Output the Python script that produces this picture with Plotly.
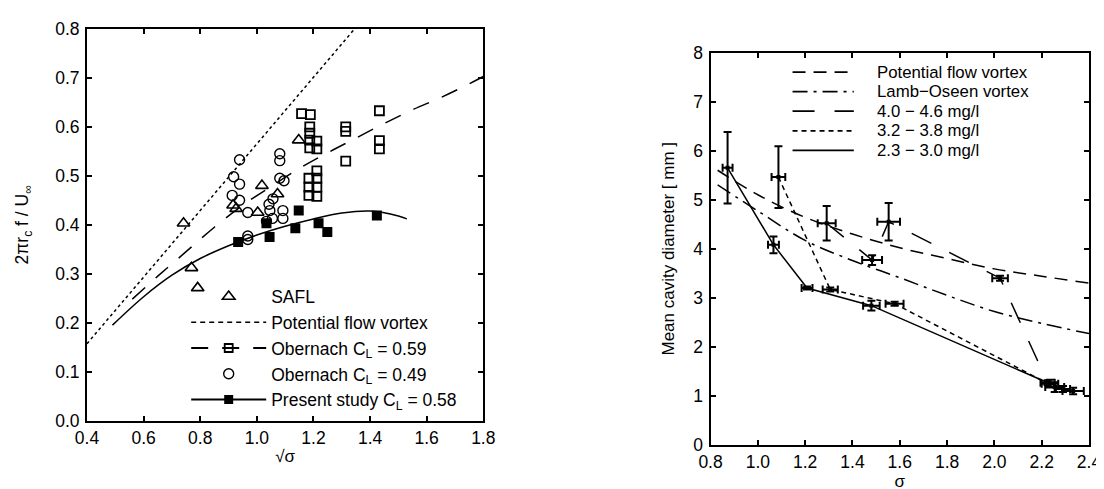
import plotly.graph_objects as go

# ---------------- Left panel data ----------------
safl_x = [0.741, 0.916, 0.927, 1.003, 1.018, 1.073, 1.148, 0.769, 0.791]
safl_y = [0.403, 0.440, 0.433, 0.425, 0.480, 0.463, 0.573, 0.312, 0.271]

obn49_x = [0.939, 0.918, 0.939, 0.913, 0.939, 0.968, 0.968, 0.968, 1.081, 1.081,
           1.081, 1.096, 1.043, 1.057, 1.046, 1.092, 1.092, 1.055, 1.034]
obn49_y = [0.533, 0.498, 0.483, 0.460, 0.450, 0.425, 0.377, 0.370, 0.545, 0.531,
           0.495, 0.490, 0.442, 0.453, 0.429, 0.429, 0.413, 0.413, 0.407]

obn59_x = [1.158, 1.189, 1.187, 1.187, 1.187, 1.187, 1.212, 1.212, 1.212, 1.212, 1.212,
           1.212, 1.184, 1.184, 1.184, 1.314, 1.314, 1.314, 1.433, 1.433, 1.433]
obn59_y = [0.627, 0.625, 0.600, 0.587, 0.573, 0.557, 0.571, 0.555, 0.510, 0.495, 0.477,
           0.458, 0.495, 0.477, 0.460, 0.600, 0.591, 0.530, 0.633, 0.572, 0.555]

present_x = [0.934, 1.034, 1.045, 1.136, 1.148, 1.218, 1.249, 1.424]
present_y = [0.365, 0.403, 0.375, 0.393, 0.429, 0.403, 0.385, 0.419]

pot_left_x = [0.40, 0.60, 0.80, 1.00, 1.20, 1.345]
pot_left_y = [0.157, 0.293, 0.429, 0.565, 0.701, 0.800]

obn_curve_x = [0.56, 0.65, 0.75, 0.85, 0.95, 1.05, 1.15, 1.25, 1.35, 1.45, 1.55, 1.65, 1.75, 1.80]
obn_curve_y = [0.248, 0.295, 0.345, 0.395, 0.440, 0.478, 0.515, 0.547, 0.577, 0.607, 0.635, 0.660, 0.688, 0.703]

present_curve_x = [0.49, 0.60, 0.70, 0.80, 0.90, 1.00, 1.10, 1.20, 1.30, 1.40, 1.50, 1.53]
present_curve_y = [0.195, 0.253, 0.297, 0.331, 0.357, 0.379, 0.397, 0.412, 0.424, 0.428, 0.418, 0.412]

# ---------------- Right panel data ----------------
pot_right_x = [0.83, 1.0, 1.2, 1.4, 1.6, 1.8, 2.0, 2.2, 2.4]
pot_right_y = [5.60, 5.10, 4.64, 4.30, 4.02, 3.80, 3.59, 3.44, 3.30]

lamb_x = [0.83, 1.0, 1.2, 1.4, 1.6, 1.8, 2.0, 2.2, 2.4]
lamb_y = [5.30, 4.77, 4.17, 3.76, 3.41, 3.05, 2.72, 2.48, 2.27]

c46_x = [1.291, 1.483, 1.553, 2.024, 2.225]
c46_y = [4.52, 3.77, 4.55, 3.40, 1.27]
c46_xerr = [0.038, 0.042, 0.048, 0.033, 0.030]
c46_yerr = [0.35, 0.10, 0.38, 0.05, 0.05]

c38_x = [1.087, 1.306, 1.578, 2.255, 2.290]
c38_y = [5.46, 3.17, 2.88, 1.18, 1.14]
c38_xerr = [0.029, 0.032, 0.038, 0.040, 0.030]
c38_yerr = [0.63, 0.04, 0.04, 0.10, 0.06]

c30_x = [0.872, 1.066, 1.208, 1.480, 2.235, 2.333]
c30_y = [5.65, 4.08, 3.20, 2.84, 1.25, 1.10]
c30_xerr = [0.021, 0.023, 0.023, 0.035, 0.035, 0.045]
c30_yerr = [0.73, 0.17, 0.03, 0.10, 0.08, 0.065]

right_legend_labels = ["Potential flow vortex", "Lamb\u2212Oseen vortex",
                       "4.0 \u2212 4.6 mg/l", "3.2 \u2212 3.8 mg/l", "2.3 \u2212 3.0 mg/l"]

FONT = "Liberation Sans, Arial, sans-serif"
BLK = "black"

# line styles for the right panel (also used by its legend)
pot_dash = "13px,8px"
lamb_dash = "15px,6px,3px,6px"
c46_dash = "22px,20px"
c38_dash = "5px,4px"
right_dashes = [pot_dash, lamb_dash, c46_dash, c38_dash, "solid"]

fig = go.Figure()

# ---- Left panel traces ----
fig.add_trace(go.Scatter(x=pot_left_x, y=pot_left_y, mode="lines",
                         line=dict(color=BLK, width=1.5, dash="dot"),
                         showlegend=False, xaxis="x", yaxis="y"))
fig.add_trace(go.Scatter(x=obn_curve_x, y=obn_curve_y, mode="lines", line_shape="spline",
                         line=dict(color=BLK, width=1.5, dash="17px,14px"),
                         showlegend=False, xaxis="x", yaxis="y"))
fig.add_trace(go.Scatter(x=present_curve_x, y=present_curve_y, mode="lines", line_shape="spline",
                         line=dict(color=BLK, width=1.5),
                         showlegend=False, xaxis="x", yaxis="y"))
fig.add_trace(go.Scatter(x=safl_x, y=safl_y, mode="markers", name="SAFL",
                         marker=dict(symbol="triangle-up-open", size=11, color=BLK, line=dict(width=1.6)),
                         xaxis="x", yaxis="y"))
fig.add_trace(go.Scatter(x=[None], y=[None], mode="lines", name="Potential flow vortex",
                         line=dict(color=BLK, width=1.5, dash="5px,4px"),
                         xaxis="x", yaxis="y"))
fig.add_trace(go.Scatter(x=obn59_x, y=obn59_y, mode="markers", showlegend=False,
                         marker=dict(symbol="square-open", size=9, color=BLK, line=dict(width=1.8)),
                         xaxis="x", yaxis="y"))
fig.add_trace(go.Scatter(x=[None], y=[None], mode="lines+markers", name="Obernach C<sub>L</sub> = 0.59",
                         line=dict(color=BLK, width=2.2, dash="17px,14px"),
                         marker=dict(symbol="square-open", size=8, color=BLK, line=dict(width=1.8)),
                         xaxis="x", yaxis="y"))
fig.add_trace(go.Scatter(x=obn49_x, y=obn49_y, mode="markers", name="Obernach C<sub>L</sub> = 0.49",
                         marker=dict(symbol="circle-open", size=10, color=BLK, line=dict(width=1.4)),
                         xaxis="x", yaxis="y"))
fig.add_trace(go.Scatter(x=present_x, y=present_y, mode="markers", showlegend=False,
                         marker=dict(symbol="square", size=10, color=BLK),
                         xaxis="x", yaxis="y"))
fig.add_trace(go.Scatter(x=[None], y=[None], mode="lines+markers", name="Present study C<sub>L</sub> = 0.58",
                         line=dict(color=BLK, width=2.2),
                         marker=dict(symbol="square", size=9, color=BLK),
                         xaxis="x", yaxis="y"))

# ---- Right panel traces ----
fig.add_trace(go.Scatter(x=pot_right_x, y=pot_right_y, mode="lines", line_shape="spline",
                         name=right_legend_labels[0], showlegend=False,
                         line=dict(color=BLK, width=1.5, dash=pot_dash),
                         xaxis="x2", yaxis="y2"))
fig.add_trace(go.Scatter(x=lamb_x, y=lamb_y, mode="lines", line_shape="spline",
                         name=right_legend_labels[1], showlegend=False,
                         line=dict(color=BLK, width=1.5, dash=lamb_dash),
                         xaxis="x2", yaxis="y2"))


def err(arr):
    return dict(type="data", array=arr, color=BLK, thickness=2, width=4)


fig.add_trace(go.Scatter(x=c46_x, y=c46_y, mode="lines+markers", name=right_legend_labels[2],
                         showlegend=False,
                         line=dict(color=BLK, width=1.5, dash=c46_dash),
                         marker=dict(symbol="square", size=4, color=BLK),
                         error_x=err(c46_xerr), error_y=err(c46_yerr),
                         xaxis="x2", yaxis="y2"))
fig.add_trace(go.Scatter(x=c38_x, y=c38_y, mode="lines+markers", name=right_legend_labels[3],
                         showlegend=False,
                         line=dict(color=BLK, width=1.5, dash=c38_dash),
                         marker=dict(symbol="square", size=4, color=BLK),
                         error_x=err(c38_xerr), error_y=err(c38_yerr),
                         xaxis="x2", yaxis="y2"))
fig.add_trace(go.Scatter(x=c30_x, y=c30_y, mode="lines+markers", name=right_legend_labels[4],
                         showlegend=False,
                         line=dict(color=BLK, width=1.5),
                         marker=dict(symbol="square", size=4, color=BLK),
                         error_x=err(c30_xerr), error_y=err(c30_yerr),
                         xaxis="x2", yaxis="y2"))

# ---- Right panel legend (drawn manually to match the compact row spacing) ----
W, H = 1104, 489
ML, MR, MT, MB = 79, 11, 18, 46
PW, PH = W - ML - MR, H - MT - MB


def px_to_paper(px, py):
    return (px - ML) / PW, (H - MB - py) / PH


shapes = []
annotations = []
row_y = [62, 82, 102, 122, 142]
for label, dash, ry in zip(right_legend_labels, right_dashes, row_y):
    x0, y0 = px_to_paper(793, ry)
    x1, _ = px_to_paper(855, ry)
    tx, _ = px_to_paper(876, ry)
    shapes.append(dict(type="line", xref="paper", yref="paper", x0=x0, x1=x1, y0=y0, y1=y0,
                       line=dict(color=BLK, width=1.8, dash=dash)))
    annotations.append(dict(xref="paper", yref="paper", x=tx, y=y0, text=label, showarrow=False,
                            xanchor="left", yanchor="middle",
                            font=dict(family=FONT, size=16.8, color=BLK)))

axis_common = dict(showgrid=False, zeroline=False, showline=True, linecolor=BLK, linewidth=2,
                   mirror="ticks", ticks="inside", ticklen=5, tickwidth=2, tickcolor=BLK,
                   tickfont=dict(family=FONT, size=17.5, color=BLK))

fig.update_layout(
    width=W, height=H,
    margin=dict(l=ML, r=MR, t=MT, b=MB),
    paper_bgcolor="white", plot_bgcolor="white",
    font=dict(family=FONT, size=16, color=BLK),
    shapes=shapes, annotations=annotations,
    xaxis=dict(domain=[0, 0.3955], range=[0.4, 1.8], dtick=0.2, tickformat=".1f",
               title=dict(text="\u221a\u03c3", standoff=4, font=dict(size=17)), anchor="y", **axis_common),
    yaxis=dict(domain=[0.0588, 1.0], range=[0, 0.8], dtick=0.1, tickformat=".1f",
               ticklabelstandoff=2,
               title=dict(text="2\u03c0r<sub>c</sub> f / U<sub>\u221e</sub>", standoff=22, font=dict(size=17.5)),
               anchor="x", **axis_common),
    xaxis2=dict(domain=[0.6223, 1.0], range=[0.8, 2.4], dtick=0.2, tickformat=".1f",
                title=dict(text="\u03c3", standoff=2, font=dict(size=17)), anchor="y2", **axis_common),
    yaxis2=dict(domain=[0, 0.9435], range=[0, 8], dtick=1,
                ticklabelstandoff=2,
                title=dict(text="Mean cavity diameter [ mm ]", standoff=14, font=dict(size=17)),
                anchor="x2", **axis_common),
    legend=dict(x=0.099, y=0.40, xanchor="left", yanchor="top", bgcolor="rgba(0,0,0,0)",
                itemwidth=75, font=dict(family=FONT, size=17.5, color=BLK), tracegroupgap=0),
)

fig.write_html("out.html")
